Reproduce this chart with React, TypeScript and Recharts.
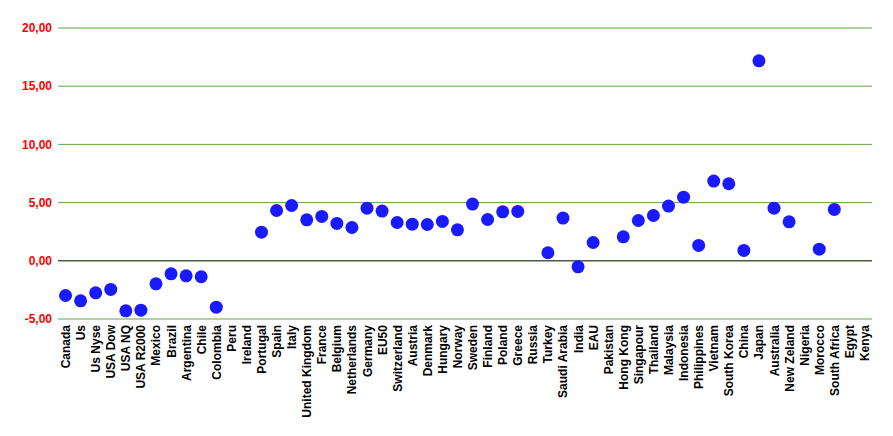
import { ComposedChart, Line, XAxis, YAxis, CartesianGrid, ReferenceLine } from 'recharts'

const countries = [
  'Canada', 'Us', 'Us Nyse', 'USA Dow', 'USA NQ', 'USA R2000', 'Mexico', 'Brazil', 'Argentina', 'Chile',
  'Colombia', 'Peru', 'Ireland', 'Portugal', 'Spain', 'Italy', 'United Kingdom', 'France', 'Belgium',
  'Netherlands', 'Germany', 'EU50', 'Switzerland', 'Austria', 'Denmark', 'Hungary', 'Norway', 'Sweden',
  'Finland', 'Poland', 'Greece', 'Russia', 'Turkey', 'Saudi Arabia', 'India', 'EAU', 'Pakistan',
  'Hong Kong', 'Singapour', 'Thailand', 'Malaysia', 'Indonesia', 'Philippines', 'Vietnam', 'South Korea',
  'China', 'Japan', 'Australia', 'New Zeland', 'Nigeria', 'Morocco', 'South Africa', 'Egypt', 'Kenya',
]

const values: (number | null)[] = [
  -2.98, -3.44, -2.75, -2.46, -4.3, -4.24, -1.98, -1.12, -1.29, -1.37,
  -3.98, null, null, 2.46, 4.32, 4.75, 3.52, 3.81, 3.21,
  2.86, 4.52, 4.27, 3.29, 3.15, 3.12, 3.38, 2.66, 4.87,
  3.55, 4.21, 4.24, null, 0.69, 3.67, -0.52, 1.57, null,
  2.06, 3.46, 3.89, 4.7, 5.47, 1.32, 6.85, 6.62,
  0.89, 17.18, 4.52, 3.35, null, 1.0, 4.41, null, null,
]

const yTicks = [-5, 0, 5, 10, 15, 20]

const data = countries.map((name, i) => ({ name, value: values[i] }))

const font = '"Liberation Sans", Arial, sans-serif'

function CountryTick({ x, y, payload }: any) {
  return (
    <text
      x={x}
      y={y}
      dy={4.5}
      transform={`rotate(-90, ${x}, ${y})`}
      textAnchor="end"
      fill="#000"
      fontFamily={font}
      fontWeight="bold"
      fontSize={12}
    >
      {payload.value}
    </text>
  )
}

export default function App() {
  return (
    <div style={{ position: 'absolute', left: 0, top: 0 }}>
      <ComposedChart width={893} height={436} data={data} margin={{ top: 28, right: 21, left: 0, bottom: 0 }}>
        <CartesianGrid vertical={false} stroke="#62a343" />
        <XAxis
          dataKey="name"
          scale="band"
          interval={0}
          height={117}
          axisLine={false}
          tickLine={false}
          tickSize={0}
          tickMargin={6}
          tick={<CountryTick />}
        />
        <YAxis
          domain={[-5, 20]}
          ticks={yTicks}
          width={58}
          axisLine={false}
          tickLine={false}
          tickSize={0}
          tickMargin={6}
          tickFormatter={(v) => v.toFixed(2).replace('.', ',')}
          tick={{ fill: '#ff0000', fontSize: 12, fontWeight: 'bold', fontFamily: font }}
        />
        <ReferenceLine y={0} stroke="#333" />
        <Line
          dataKey="value"
          stroke="none"
          isAnimationActive={false}
          dot={{ r: 6.5, fill: '#1a1aff', stroke: 'none' }}
          activeDot={false}
        />
      </ComposedChart>
    </div>
  )
}
